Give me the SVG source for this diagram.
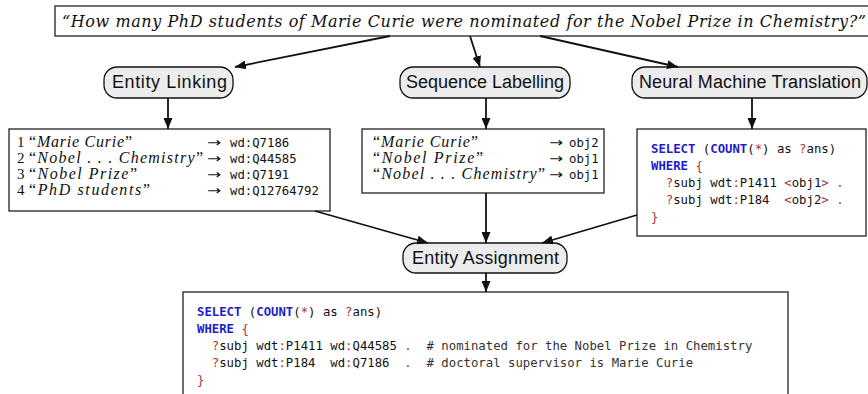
<svg xmlns="http://www.w3.org/2000/svg" width="868" height="394" viewBox="0 0 868 394">
<defs>
<style>
.bg{fill:#ffffff}
.box{fill:#ffffff;stroke:#222;stroke-width:1.3}
.node{fill:#ececec;stroke:#111;stroke-width:1.3}
.lbl{font-family:"Liberation Sans",Arial,sans-serif;font-size:18px;fill:#111}
.q{font-family:"DejaVu Serif","Liberation Serif",serif;font-style:italic;font-size:16px;fill:#111}
.it{font-family:"Liberation Serif",serif;font-style:italic;font-size:16px;fill:#111}
.up{font-style:normal}
.num{font-family:"Liberation Serif",serif;font-size:15px;fill:#111}
.arr{font-family:"DejaVu Sans",sans-serif;font-size:13px;fill:#111}
.mono{font-family:"DejaVu Sans Mono",monospace;font-size:12.3px;fill:#111}
.kw{font-weight:bold;fill:#1c1cc8}
.rd{fill:#a8323e}
.cm{fill:#333}
.edge{stroke:#111;stroke-width:1.8;fill:none;marker-end:url(#ah)}
</style>
<marker id="ah" markerUnits="userSpaceOnUse" markerWidth="11" markerHeight="9" refX="11" refY="4.5" orient="auto">
<path d="M0,0 L11,4.5 L0,9 z" fill="#111"/>
</marker>
</defs>
<rect class="bg" x="0" y="0" width="868" height="394"/>

<g id="question">
<rect class="box" x="55" y="6" width="820" height="30"/>
<text class="q" x="62" y="27" textLength="804">“How many PhD students of Marie Curie were nominated for the Nobel Prize in Chemistry?”</text>
</g>

<g id="entity-linking">
<rect class="node" x="104" y="67" width="129" height="31" rx="13"/>
<text class="lbl" x="112" y="88" textLength="115">Entity Linking</text>
</g>

<g id="sequence-labelling">
<rect class="node" x="400" y="67" width="170" height="31" rx="13"/>
<text class="lbl" x="406" y="88" textLength="158">Sequence Labelling</text>
</g>

<g id="nmt">
<rect class="node" x="632" y="67" width="235" height="31" rx="13"/>
<text class="lbl" x="639" y="88" textLength="222">Neural Machine Translation</text>
</g>

<g id="el-box">
<rect class="box" x="9" y="129" width="321" height="82"/>
<text class="num" x="17" y="147">1</text>
<text class="it" x="29" y="147" textLength="103"><tspan class="up">“</tspan>Marie Curie<tspan class="up">”</tspan></text>
<text class="arr" x="207" y="147" textLength="14" lengthAdjust="spacingAndGlyphs">→</text>
<text class="mono" x="230" y="147">wd:Q7186</text>
<text class="num" x="17" y="163">2</text>
<text class="it" x="29" y="163" textLength="174"><tspan class="up">“</tspan>Nobel . . . Chemistry<tspan class="up">”</tspan></text>
<text class="arr" x="207" y="163" textLength="14" lengthAdjust="spacingAndGlyphs">→</text>
<text class="mono" x="230" y="163">wd:Q44585</text>
<text class="num" x="17" y="179">3</text>
<text class="it" x="29" y="179" textLength="108"><tspan class="up">“</tspan>Nobel Prize<tspan class="up">”</tspan></text>
<text class="arr" x="207" y="179" textLength="14" lengthAdjust="spacingAndGlyphs">→</text>
<text class="mono" x="230" y="179">wd:Q7191</text>
<text class="num" x="17" y="195">4</text>
<text class="it" x="29" y="195" textLength="121"><tspan class="up">“</tspan>PhD students<tspan class="up">”</tspan></text>
<text class="arr" x="207" y="195" textLength="14" lengthAdjust="spacingAndGlyphs">→</text>
<text class="mono" x="230" y="195">wd:Q12764792</text>
</g>

<g id="sl-box">
<rect class="box" x="362" y="129" width="242" height="64"/>
<text class="it" x="373" y="147" textLength="105"><tspan class="up">“</tspan>Marie Curie<tspan class="up">”</tspan></text>
<text class="arr" x="549" y="147" textLength="14" lengthAdjust="spacingAndGlyphs">→</text>
<text class="mono" x="569" y="147">obj2</text>
<text class="it" x="373" y="163" textLength="110"><tspan class="up">“</tspan>Nobel Prize<tspan class="up">”</tspan></text>
<text class="arr" x="549" y="163" textLength="14" lengthAdjust="spacingAndGlyphs">→</text>
<text class="mono" x="569" y="163">obj1</text>
<text class="it" x="373" y="179" textLength="172"><tspan class="up">“</tspan>Nobel . . . Chemistry<tspan class="up">”</tspan></text>
<text class="arr" x="549" y="179" textLength="14" lengthAdjust="spacingAndGlyphs">→</text>
<text class="mono" x="569" y="179">obj1</text>
</g>

<g id="nmt-box">
<rect class="box" x="637" y="129" width="229" height="107"/>
<text class="mono" x="651" y="153" xml:space="preserve"><tspan class="kw">SELECT</tspan> (<tspan class="kw">COUNT</tspan>(<tspan class="rd">*</tspan>) as <tspan class="rd">?</tspan>ans)</text>
<text class="mono" x="651" y="170" xml:space="preserve"><tspan class="kw">WHERE</tspan> <tspan class="rd">{</tspan></text>
<text class="mono" x="651" y="187" xml:space="preserve">  <tspan class="rd">?</tspan>subj wdt<tspan class="rd">:</tspan>P1411 <tspan class="rd">&lt;</tspan>obj1<tspan class="rd">&gt;</tspan> <tspan class="rd">.</tspan></text>
<text class="mono" x="651" y="204" xml:space="preserve">  <tspan class="rd">?</tspan>subj wdt<tspan class="rd">:</tspan>P184  <tspan class="rd">&lt;</tspan>obj2<tspan class="rd">&gt;</tspan> <tspan class="rd">.</tspan></text>
<text class="mono" x="651" y="221" xml:space="preserve"><tspan class="rd">}</tspan></text>
</g>

<g id="entity-assignment">
<rect class="node" x="403" y="243" width="164" height="30" rx="13"/>
<text class="lbl" x="412" y="264" textLength="147">Entity Assignment</text>
</g>

<g id="final-query">
<rect class="box" x="183" y="292" width="605" height="120"/>
<text class="mono" x="197" y="316" xml:space="preserve"><tspan class="kw">SELECT</tspan> (<tspan class="kw">COUNT</tspan>(<tspan class="rd">*</tspan>) as <tspan class="rd">?</tspan>ans)</text>
<text class="mono" x="197" y="333" xml:space="preserve"><tspan class="kw">WHERE</tspan> <tspan class="rd">{</tspan></text>
<text class="mono" x="197" y="350" xml:space="preserve">  <tspan class="rd">?</tspan>subj wdt<tspan class="rd">:</tspan>P1411 wd<tspan class="rd">:</tspan>Q44585 <tspan class="rd">.</tspan>  <tspan class="cm"># nominated for the Nobel Prize in Chemistry</tspan></text>
<text class="mono" x="197" y="367" xml:space="preserve">  <tspan class="rd">?</tspan>subj wdt<tspan class="rd">:</tspan>P184  wd<tspan class="rd">:</tspan>Q7186  <tspan class="rd">.</tspan>  <tspan class="cm"># doctoral supervisor is Marie Curie</tspan></text>
<text class="mono" x="197" y="384" xml:space="preserve"><tspan class="rd">}</tspan></text>
</g>

<g id="connectors">
<line class="edge" x1="390" y1="36" x2="235" y2="67"/>
<line class="edge" x1="470" y1="36" x2="480" y2="67"/>
<line class="edge" x1="540" y1="36" x2="678" y2="67"/>
<line class="edge" x1="168" y1="98" x2="168" y2="129"/>
<line class="edge" x1="486" y1="98" x2="486" y2="129"/>
<line class="edge" x1="752" y1="98" x2="752" y2="129"/>
<line class="edge" x1="315" y1="211" x2="428" y2="243"/>
<line class="edge" x1="486" y1="193" x2="486" y2="243"/>
<line class="edge" x1="637" y1="215" x2="542" y2="243"/>
<line class="edge" x1="486" y1="273" x2="486" y2="292"/>
</g>
</svg>
